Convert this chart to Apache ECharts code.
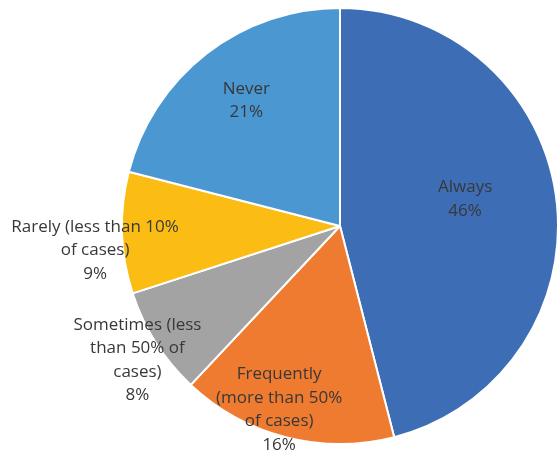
<!DOCTYPE html>
<html><head><meta charset="utf-8">
<script src="https://cdn.jsdelivr.net/npm/echarts@6/dist/echarts.min.js"></script>
<style>html,body{margin:0;padding:0;background:#fff}#c{width:558px;height:452px}</style>
</head><body><div id="c"></div>
<script>
const categories = ["Always", "Frequently\n(more than 50%\nof cases)", "Sometimes (less\nthan 50% of\ncases)", "Rarely (less than 10%\nof cases)", "Never"];
const values = [46, 16, 8, 9, 21];
const colors = ["#3d6db5", "#ee7b2f", "#a3a3a3", "#fbbd14", "#4a97d2"];
// label offsets (dx, dy) from default inside position
const labelOffsets = [[14, -13], [-33, 75], [-108, 74], [-133, 21], [-25, -37]];

const chart = echarts.init(document.getElementById('c'), null, {renderer: 'canvas'});
chart.setOption({
  animation: false,
  series: [{
    type: 'pie',
    center: [340, 226],
    radius: [0, 218],
    startAngle: 90,
    clockwise: true,
    data: categories.map((n, i) => ({name: n, value: values[i], itemStyle: {color: colors[i]}})),
    itemStyle: {borderColor: '#fff', borderWidth: 2},
    label: {
      position: 'inside',
      formatter: p => p.name + '\n' + p.value + '%',
      color: '#383838',
      fontFamily: 'Open Sans',
      fontSize: 17,
      lineHeight: 23.5,
      align: 'center'
    },
    labelLine: {show: false},
    emphasis: {disabled: true},
    labelLayout: p => ({dx: labelOffsets[p.dataIndex][0], dy: labelOffsets[p.dataIndex][1]})
  }]
});
</script></body></html>
